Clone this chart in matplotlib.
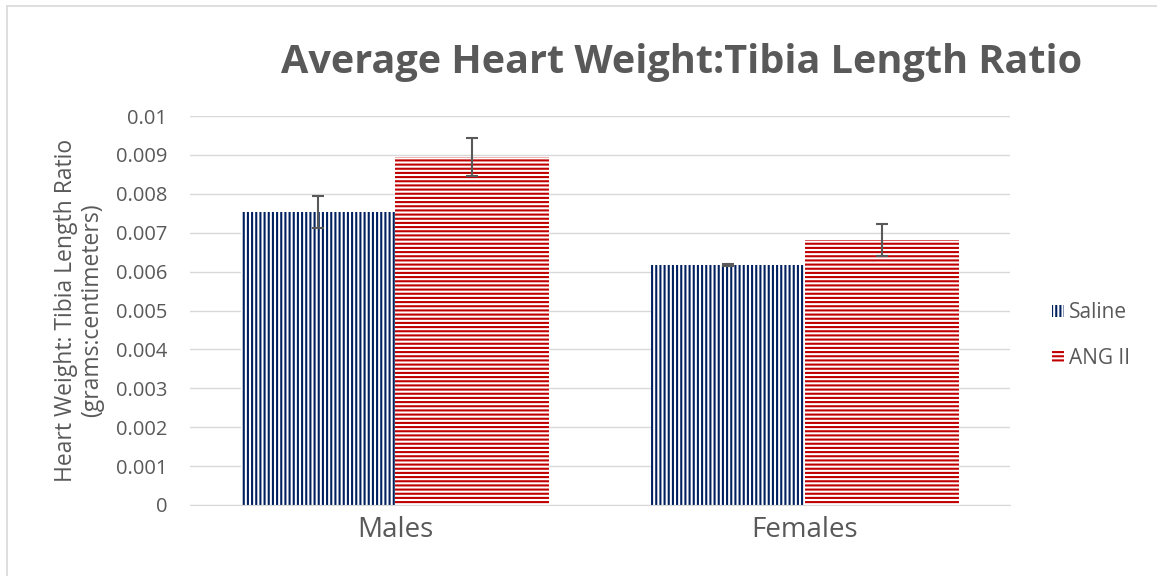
import matplotlib
matplotlib.use("Agg")
import matplotlib.pyplot as plt
import numpy as np
from matplotlib.lines import Line2D

# === DATA ===
categories = ["Males", "Females"]
series = ["Saline", "ANG II"]
saline = [0.00754, 0.00617]
saline_err = [0.00041, 0.00003]
ang = [0.00895, 0.00681]
ang_err = [0.00048, 0.00041]
yticks = [0, 0.001, 0.002, 0.003, 0.004, 0.005, 0.006, 0.007, 0.008, 0.009, 0.01]
ytick_labels = ["0", "0.001", "0.002", "0.003", "0.004", "0.005", "0.006", "0.007", "0.008", "0.009", "0.01"]

GRAY = "#595959"
NAVY = "#002060"
RED = "#C00000"

plt.rcParams["font.family"] = ["Open Sans", "DejaVu Sans"]
plt.rcParams["hatch.linewidth"] = 1.5

fig = plt.figure(figsize=(11.57, 5.76), dpi=100)
ax = fig.add_axes([190 / 1157, 1 - 505 / 576, 820 / 1157, 389 / 576])

x = np.arange(len(categories))
w = 0.375

ax.bar(x - w / 2, saline, w, color="white", edgecolor=NAVY, hatch="||||", linewidth=0, label=series[0])
ax.bar(x + w / 2, ang, w, color="white", edgecolor=RED, hatch="----", linewidth=0, label=series[1])
ax.errorbar(x - w / 2, saline, yerr=saline_err, fmt="none", ecolor=GRAY, elinewidth=1.5, capsize=4.5, capthick=1.5)
ax.errorbar(x + w / 2, ang, yerr=ang_err, fmt="none", ecolor=GRAY, elinewidth=1.5, capsize=4.5, capthick=1.5)

ax.set_xlim(-0.5, 1.5)
ax.set_ylim(0, 0.01)
ax.set_yticks(yticks)
ax.set_yticklabels(ytick_labels)
ax.set_xticks(x)
ax.set_xticklabels(categories, fontsize=20, color=GRAY)
ax.tick_params(axis="y", length=0, labelsize=14.5, labelcolor=GRAY, pad=16.5)
ax.tick_params(axis="x", length=0, pad=8)
ax.yaxis.grid(True, color="#D9D9D9", linewidth=1)
ax.set_axisbelow(True)
for s in ["top", "right", "left"]:
    ax.spines[s].set_visible(False)
ax.spines["bottom"].set_color("#D9D9D9")

ax.set_ylabel("Heart Weight: Tibia Length Ratio\n(grams:centimeters)", fontsize=16.5, color=GRAY,
              linespacing=1.15, labelpad=8)

fig.text(682 / 1157, 1 - 73 / 576, "Average Heart Weight:Tibia Length Ratio", ha="center", va="baseline",
         fontsize=28.5, fontweight="bold", color=GRAY)

leg = ax.legend(loc="center left", bbox_to_anchor=(1.051, 0.435), frameon=False, fontsize=15,
                handlelength=0.57, handleheight=0.57, handletextpad=0.25, labelspacing=1.2,
                borderaxespad=0, borderpad=0)
for t in leg.get_texts():
    t.set_color(GRAY)

# figure border (left and top only visible)
fig.add_artist(Line2D([6.5 / 1157, 6.5 / 1157], [0, 1 - 5.5 / 576], color="#D9D9D9", linewidth=1.2))
fig.add_artist(Line2D([6.5 / 1157, 1], [1 - 5.5 / 576, 1 - 5.5 / 576], color="#D9D9D9", linewidth=1.2))

fig.savefig("out.png", dpi=100)
